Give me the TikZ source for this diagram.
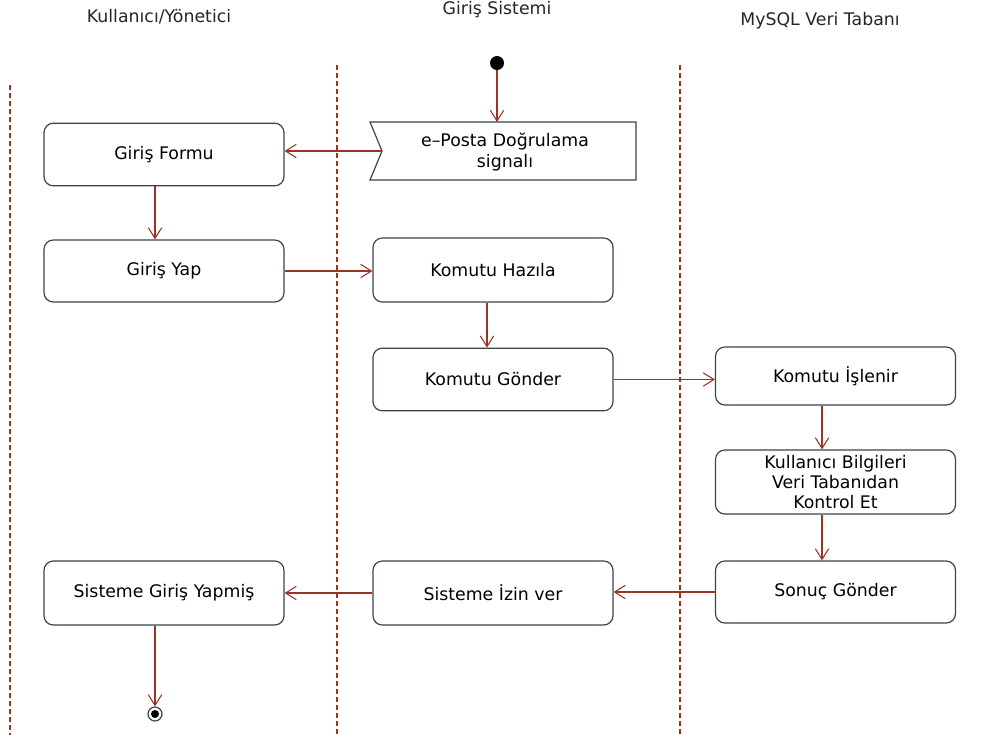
\documentclass[tikz,border=0pt]{standalone}
\usepackage{fontspec}
\setmainfont{DejaVu Sans}
\usetikzlibrary{arrows.meta}
\definecolor{flow}{HTML}{9A3526}
\definecolor{frame}{HTML}{3A4550}
\begin{document}
\begin{tikzpicture}[x=0.75pt,y=-0.75pt,
  font=\fontsize{13}{16}\selectfont,
  action/.style={draw=frame, line width=0.9pt, rounded corners=7pt, fill=white,
    minimum width=180pt, align=center, inner sep=0pt},
  lane/.style={draw=flow, dash pattern=on 3.5pt off 2.5pt, line width=0.8pt},
  flowarrow/.style={draw=flow, line width=0.8pt,
    -{Straight Barb[length=8pt,width=10pt,line width=0.8pt]}},
  head/.style={font=\fontsize{13}{16}\selectfont, text=black!85}
]
\useasboundingbox (0,0) rectangle (987,744);
\fill[white] (0,0) rectangle (987,744);

% swimlane separators
\draw[lane] (10,85) -- (10,735);
\draw[lane] (337,65) -- (337,735);
\draw[lane] (680,65) -- (680,735);

% lane headings
\node[head] (h1) at (159,17) {Kullanıcı/Yönetici};
\node[head] (h2) at (497,10) {Giriş Sistemi};
\node[head] (h3) at (820,21) {MySQL Veri Tabanı};

% initial node
\fill[black] (497,63) circle (7);
\coordinate (start) at (497,70);

% receive signal
\draw[frame, line width=0.9pt, fill=white]
  (370,122) -- (636,122) -- (636,180) -- (370,180) -- (382,151) -- cycle;
\coordinate (sigtop) at (497,122);
\coordinate (signotch) at (382,151);
\node[align=center] (sig) at (505,152) {e–Posta Doğrulama\\signalı};

% actions
\node[action, minimum height=47pt] (form)  at (164,154.5) {Giriş Formu};
\node[action, minimum height=46.5pt] (yap) at (164,271) {Giriş Yap};
\node[action, minimum height=48pt] (hazila) at (493,270) {Komutu Hazıla};
\node[action, minimum height=47pt] (gonder) at (493,379.5) {Komutu Gönder};
\node[action, minimum height=43.5pt] (islenir) at (835.5,376) {Komutu İşlenir};
\node[action, minimum height=48pt, font=\fontsize{13}{15}\selectfont] (kontrol) at (835.5,482) {Kullanıcı Bilgileri\\Veri Tabanıdan\\Kontrol Et};
\node[action, minimum height=46.5pt] (sonuc) at (835.5,592) {Sonuç Gönder};
\node[action, minimum height=48pt] (izin) at (493,593) {Sisteme İzin ver};
\node[action, minimum height=48pt] (yapmis) at (164,593) {Sisteme Giriş Yapmiş};

% final node
\node[draw=frame, circle, line width=0.9pt, minimum size=10.5pt, inner sep=0pt] (end) at (155,714) {};
\fill[black] (end.center) circle (4);

% control flow
\draw[flowarrow] (start) -- (sigtop);
\draw[flowarrow] (signotch) -- (signotch -| form.east);
\draw[flowarrow] (form.south -| 155,0) -- (yap.north -| 155,0);
\draw[flowarrow] (yap.east) -- (hazila.west |- yap.east);
\draw[flowarrow] (hazila.south -| 487,0) -- (gonder.north -| 487,0);
\draw[flowarrow] (gonder.east) -- (islenir.west |- gonder.east);
\draw[flowarrow] (islenir.south -| 822,0) -- (kontrol.north -| 822,0);
\draw[flowarrow] (kontrol.south -| 822,0) -- (sonuc.north -| 822,0);
\draw[flowarrow] (sonuc.west) -- (izin.east |- sonuc.west);
\draw[flowarrow] (izin.west) -- (yapmis.east |- izin.west);
\draw[flowarrow] (yapmis.south -| 155,0) -- (end.north);
\end{tikzpicture}
\end{document}
